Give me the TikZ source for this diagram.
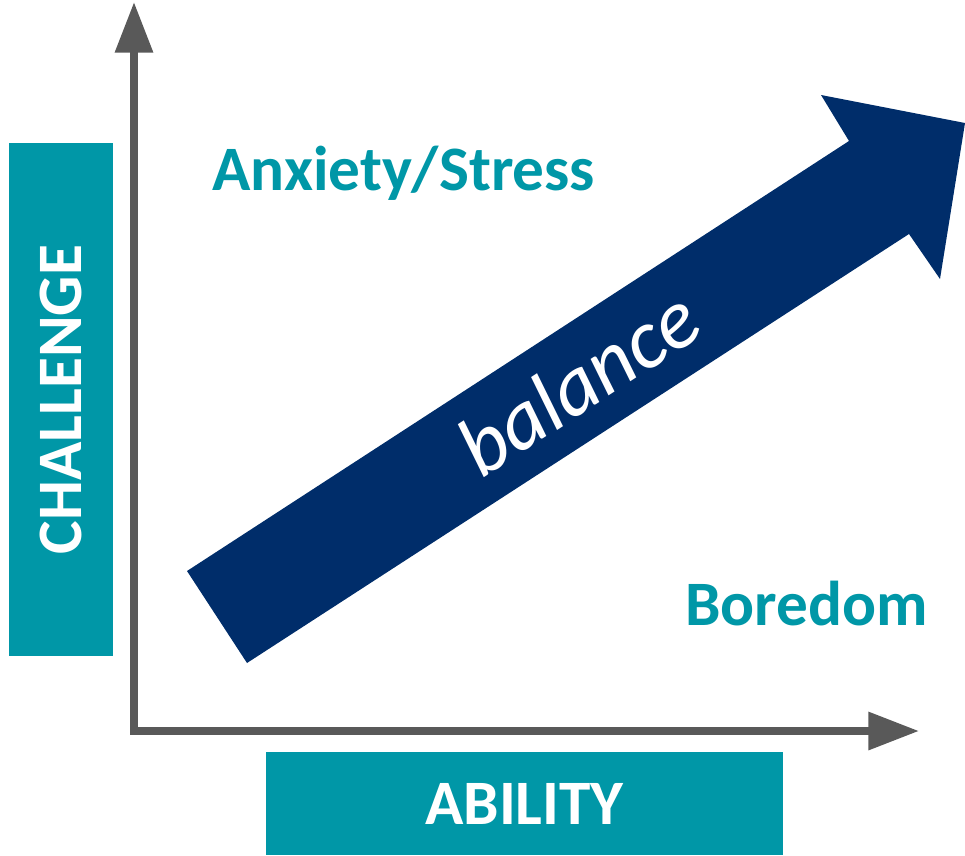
\documentclass[tikz,border=0pt]{standalone}
\usepackage{fontspec}
\setmainfont{Carlito}
\usetikzlibrary{arrows.meta}
\definecolor{flowteal}{RGB}{0,151,167}
\definecolor{flownavy}{RGB}{0,45,106}
\definecolor{axisgray}{RGB}{89,89,89}
\begin{document}
\begin{tikzpicture}[x=0.025cm,y=-0.025cm,
    axis/.style={line width=5.5pt,axisgray,
        {Triangle[length=36pt,width=26pt]}-{Triangle[length=36pt,width=26pt]}},
    axisbox/.style={fill=flowteal,text=white,inner sep=0pt,
        font=\fontsize{45}{45}\selectfont\bfseries},
    zone/.style={text=flowteal,inner sep=0pt,anchor=base west,
        font=\fontsize{45}{45}\selectfont\bfseries}]
    \useasboundingbox (0,0) rectangle (965,855);

    % Axes
    \coordinate (O) at (134,731);
    \coordinate (ytip) at (134,2);
    \coordinate (xtip) at (919,731);
    \draw[axis] (ytip) -- (O) -- (xtip);

    % Axis labels
    \node[axisbox,rotate=90,minimum width=12.825cm,minimum height=2.6cm] (challenge) at (61,399.5) {CHALLENGE};
    \node[axisbox,minimum width=12.925cm,minimum height=2.575cm] (ability) at (524.5,803.5) {ABILITY};

    % Balance arrow
    \fill[flownavy] (187,571) -- (849,141) -- (821,95) -- (965,123) -- (940,279) -- (909,234) -- (247,663) -- cycle;
    \node[text=white,rotate=33,font=\fontsize{60}{60}\selectfont\itshape] (balance) at (578,382) {balance};

    % Zones
    \node[zone] (anxiety) at (212,190) {Anxiety/Stress};
    \node[zone] (boredom) at (685,625) {Boredom};
\end{tikzpicture}
\end{document}
